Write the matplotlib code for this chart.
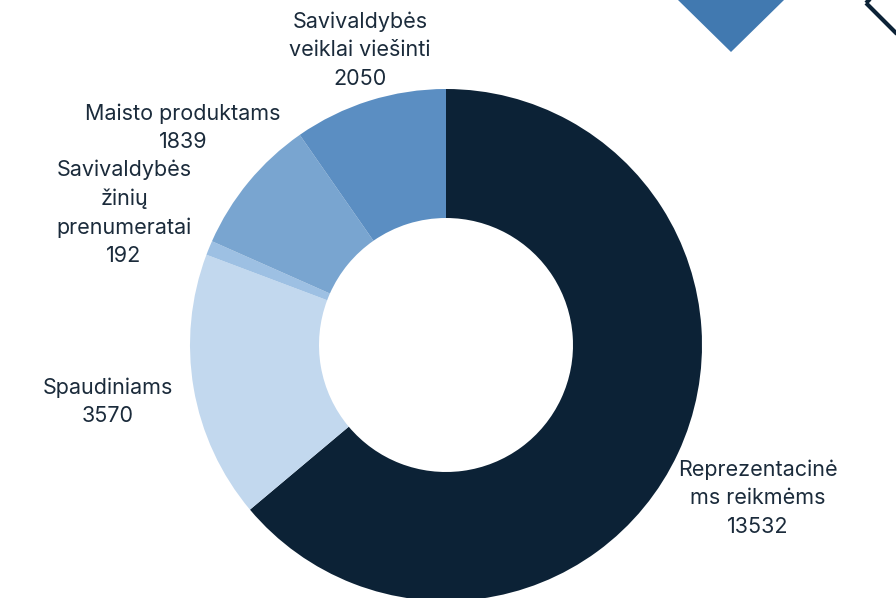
import matplotlib
matplotlib.use("Agg")
import matplotlib.pyplot as plt
from matplotlib.patches import Polygon

plt.rcParams['font.family'] = ['Inter', 'DejaVu Sans']

# Data
categories = ["Reprezentacinė\nms reikmėms", "Spaudiniams", "Savivaldybės\nžinių\nprenumeratai",
              "Maisto produktams", "Savivaldybės\nveiklai viešinti"]
values = [13532, 3570, 192, 1839, 2050]
colors = ["#0c2236", "#c2d8ee", "#9dc0e3", "#79a5d0", "#5b8ec2"]
text_color = "#1b2b3b"

W, H = 896, 598
fig = plt.figure(figsize=(W / 100, H / 100), dpi=100)
ax = fig.add_axes([0, 0, 1, 1])

cx, cy, R = 446, H - 345, 256
ring = 129
ax.pie(values, colors=colors, startangle=90, counterclock=False,
       center=(cx, cy), radius=R,
       wedgeprops=dict(width=ring, edgecolor='none', linewidth=0))

# label positions (pixel coords from top-left)
label_pos = [(758, 498), (108, 402), (124, 213), (183, 128), (360, 50)]
for cat, val, (lx, ly) in zip(categories, values, label_pos):
    ax.text(lx, H - ly, f"{cat}\n{val}", ha='center', va='center',
            fontsize=15.5, color=text_color, linespacing=1.52)

# decorations
ax.add_patch(Polygon([(678, H), (731, H + 53), (784, H), (731, H - 52)],
                     closed=True, facecolor="#4179b0", edgecolor='none'))
ax.add_patch(Polygon([(866, H - 3), (916, H + 47), (966, H - 3), (916, H - 53)],
                     closed=True, facecolor='none', edgecolor="#0c2236", linewidth=3,
                     joinstyle='miter'))

ax.set_xlim(0, W)
ax.set_ylim(0, H)
ax.set_aspect('auto')
ax.axis('off')

fig.savefig("out.png", dpi=100)
